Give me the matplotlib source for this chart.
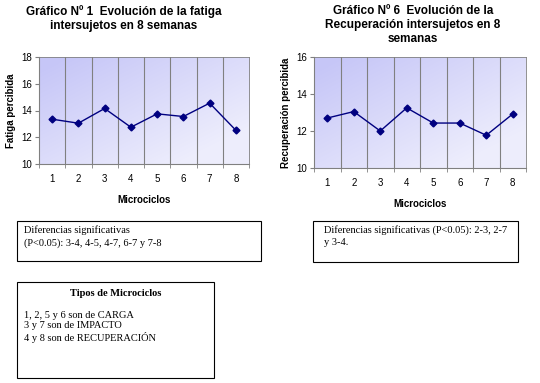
import numpy as np
import matplotlib
matplotlib.use("Agg")
import matplotlib.pyplot as plt
from matplotlib.patches import Rectangle

plt.rcParams['font.family'] = ['Liberation Sans', 'DejaVu Sans']

micro = [1, 2, 3, 4, 5, 6, 7, 8]
fatiga = [13.35, 13.05, 14.15, 12.75, 13.75, 13.55, 14.55, 12.52]
recup = [12.7, 13.05, 12.0, 13.25, 12.43, 12.43, 11.77, 12.92]

title1 = "Gráfico Nº 1  Evolución de la fatiga\nintersujetos en 8 semanas"
title6 = "Gráfico Nº 6  Evolución de la\nRecuperación intersujetos en 8\nsemanas"
nota1 = "Diferencias significativas\n(P<0.05): 3-4, 4-5, 4-7, 6-7 y 7-8"
nota6 = "Diferencias significativas (P<0.05): 2-3, 2-7\ny 3-4."
tipos_titulo = "Tipos de Microciclos"
tipos = "1, 2, 5 y 6 son de CARGA\n3 y 7 son de IMPACTO\n4 y 8 son de RECUPERACIÓN"

W, H = 540, 383
fig = plt.figure(figsize=(5.4, 3.83), dpi=100)
fig.patch.set_facecolor('white')


def px_axes(x0, y0, x1, y1):
    return fig.add_axes([x0 / W, 1 - y1 / H, (x1 - x0) / W, (y1 - y0) / H])


def grad_bg(ax, ylim):
    # lavender in upper-left fading to near white at lower-right
    xx, yy = np.meshgrid(np.linspace(0, 1, 200), np.linspace(0, 1, 200))
    t = np.clip((xx + yy - 0.15) / 1.5, 0, 1)
    c0 = np.array([0.78, 0.78, 0.97])
    c1 = np.array([0.93, 0.93, 0.99])
    img = c0[None, None, :] * (1 - t[..., None]) + c1[None, None, :] * t[..., None]
    ax.imshow(img, extent=[0.5, 8.5, ylim[0], ylim[1]], origin='upper',
              aspect='auto', zorder=0)


def chart(ax, vals, ylim, yticks, ylabel):
    grad_bg(ax, ylim)
    ax.set_xlim(0.5, 8.5)
    ax.set_ylim(*ylim)
    for b in np.arange(1.5, 8.5, 1):
        ax.axvline(b, color='#808080', lw=0.8, zorder=1)
    ax.plot(micro, vals, color='#000080', lw=1.0, marker='D', ms=3.5, zorder=3)
    ax.set_yticks(yticks)
    ax.set_xticks(micro)
    ax.set_xticks(np.arange(0.5, 9, 1), minor=True)
    ax.tick_params(axis='x', which='major', length=0, labelsize=7, pad=7)
    ax.tick_params(axis='x', which='minor', length=3, color='#808080', direction='out')
    ax.tick_params(axis='y', length=3, labelsize=7, color='#808080', pad=2)
    for s in ['top', 'right']:
        ax.spines[s].set_color('#808080')
        ax.spines[s].set_linewidth(0.6)
    for s in ['left', 'bottom']:
        ax.spines[s].set_color('#808080')
        ax.spines[s].set_linewidth(0.8)
    ax.set_ylabel(ylabel, fontsize=7, fontweight='bold', labelpad=4)
    ax.set_xlabel("Microciclos", fontsize=7, fontweight='bold', labelpad=8)


ax1 = px_axes(39, 57, 249, 164)
chart(ax1, fatiga, (10, 18), [10, 12, 14, 16, 18], "Fatiga percibida")
ax2 = px_axes(314, 57, 526, 168)
chart(ax2, recup, (10, 16), [10, 12, 14, 16], "Recuperación percibida")

fig.text(124 / W, 1 - 5 / H, title1, ha='center', va='top', fontsize=8.5,
         fontweight='bold', linespacing=1.25)
fig.text(413 / W, 1 - 5 / H, title6, ha='center', va='top', fontsize=8.5,
         fontweight='bold', linespacing=1.25)


def box(x0, y0, x1, y1):
    r = Rectangle((x0 / W, 1 - y1 / H), (x1 - x0) / W, (y1 - y0) / H,
                  transform=fig.transFigure, facecolor='white',
                  edgecolor='black', lw=0.8)
    fig.patches.append(r)


serif = ['Liberation Serif', 'DejaVu Serif']
box(17, 221, 261, 261)
fig.text(24 / W, 1 - 225 / H, nota1, ha='left', va='top', fontsize=7.5,
         family=serif, linespacing=1.45)
box(313, 221, 518, 262)
fig.text(324 / W, 1 - 225 / H, nota6, ha='left', va='top', fontsize=7.5,
         family=serif, linespacing=1.45)
box(17, 282, 214, 378)
fig.text(116 / W, 1 - 289 / H, tipos_titulo, ha='center', va='top', fontsize=7.5,
         family=serif, fontweight='bold')
fig.text(24 / W, 1 - 311 / H, tipos, ha='left', va='top', fontsize=7.5,
         family=serif, linespacing=1.2)

fig.savefig("out.png", dpi=100)
